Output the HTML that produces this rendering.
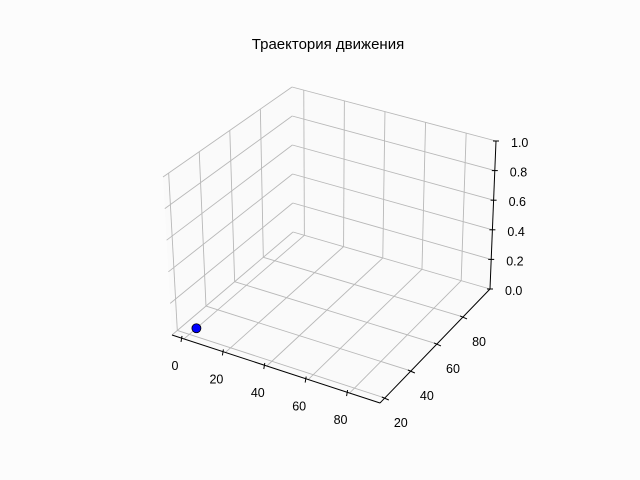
<!DOCTYPE html>
<html><head><meta charset="utf-8"><style>
body{margin:0;background:#fff;}
svg{display:block;font-family:"Liberation Sans","DejaVu Sans",sans-serif;}
</style></head><body>
<svg id="chart" width="640" height="480" viewBox="0 0 640 480">
<rect width="640" height="480" fill="#fcfcfc"/>
<text x="328" y="49" text-anchor="middle" font-size="15" fill="#000">Траектория движения</text>
<g id="panes"></g>
<g id="grid"></g>
<g id="axes"></g>
<g id="marks"></g>
</svg>
<script>
const xTicks = [0, 20, 40, 60, 80];
const yTicks = [20, 40, 60, 80];
const zTicks = [0.0, 0.2, 0.4, 0.6, 0.8, 1.0];
const xLim = [-5.8, 94.7];
const yLim = [16.3, 100.7];
const zLim = [0, 1];
const pointsX = [0];
const pointsY = [25];
const pointsZ = [0];

const C = {
  '000':[172,335],'100':[380,403],'110':[490,289],'010':[293,232],
  '001':[163,177],'101':[385,238],'111':[496,141],'011':[292,87]
};
function proj(x,y,z){
  const u=(x-xLim[0])/(xLim[1]-xLim[0]), v=(y-yLim[0])/(yLim[1]-yLim[0]), w=(z-zLim[0])/(zLim[1]-zLim[0]);
  let px=0,py=0;
  for(const a of [0,1])for(const b of [0,1])for(const c of [0,1]){
    const k=(a?u:1-u)*(b?v:1-v)*(c?w:1-w);
    const p=C[''+a+b+c]; px+=k*p[0]; py+=k*p[1];
  }
  return [px,py];
}
const NS='http://www.w3.org/2000/svg';
function line(g,p,q,col,wd){
  const l=document.createElementNS(NS,'line');
  l.setAttribute('x1',p[0]);l.setAttribute('y1',p[1]);l.setAttribute('x2',q[0]);l.setAttribute('y2',q[1]);
  l.setAttribute('stroke',col);l.setAttribute('stroke-width',wd);
  g.appendChild(l);return l;
}
function poly(g,pts){
  const p=document.createElementNS(NS,'polygon');
  p.setAttribute('points',pts.map(a=>a.join(',')).join(' '));
  p.setAttribute('fill','rgba(240,240,240,0.12)');
  g.appendChild(p);return p;
}
const panes=document.getElementById('panes');
const [x0,x1]=xLim,[y0,y1]=yLim,[z0,z1]=zLim;
let pp=poly(panes,[proj(x0,y0,z0),proj(x0,y1,z0),proj(x0,y1,z1),proj(x0,y0,z1)]);


pp=poly(panes,[proj(x0,y1,z0),proj(x1,y1,z0),proj(x1,y1,z1),proj(x0,y1,z1)]);


pp=poly(panes,[proj(x0,y0,z0),proj(x1,y0,z0),proj(x1,y1,z0),proj(x0,y1,z0)]);



const grid=document.getElementById('grid');
const gc='#b8b8b8', gw=0.9;
xTicks.forEach(x=>{
  let l=line(grid,proj(x,y0,z0),proj(x,y1,z0),gc,gw);
  
  
  l=line(grid,proj(x,y1,z0),proj(x,y1,z1),gc,gw);
  
  
});
yTicks.forEach(y=>{
  let l=line(grid,proj(x0,y,z0),proj(x1,y,z0),gc,gw);
  
  
  l=line(grid,proj(x0,y,z0),proj(x0,y,z1),gc,gw);
  
  
});
zTicks.forEach(z=>{
  let l=line(grid,proj(x0,y0,z),proj(x0,y1,z),gc,gw);
  
  
  l=line(grid,proj(x0,y1,z),proj(x1,y1,z),gc,gw);
  
  
});

const axes=document.getElementById('axes');
function txt(x,y,s,anchor){
  const t=document.createElementNS(NS,'text');
  t.setAttribute('x',x);t.setAttribute('y',y);t.setAttribute('font-size','12.5');
  t.setAttribute('text-anchor',anchor);t.setAttribute('dominant-baseline','central');
  t.textContent=s;axes.appendChild(t);return t;
}
let a=line(axes,proj(x0,y0,z0),proj(x1,y0,z0),'#000',1);


a=line(axes,proj(x1,y0,z0),proj(x1,y1,z0),'#000',1);


a=line(axes,proj(x1,y1,z0),proj(x1,y1,z1),'#000',1);



xTicks.forEach(x=>{
  const p=proj(x,y0,z0);
  let l=line(axes,[p[0]-2,p[1]-3],[p[0]-3,p[1]+3],'#000',1);
  
  
  const t=txt(p[0]-9,p[1]+27,String(x),'middle');
  
  
});
yTicks.forEach(y=>{
  const p=proj(x1,y,z0);
  let l=line(axes,[p[0]-3,p[1]-1],[p[0]+4,p[1]+2],'#000',1);
  
  
  const t=txt(p[0]+16,p[1]+25,String(y),'middle');
  
  
});
zTicks.forEach(z=>{
  const p=proj(x1,y1,z);
  let l=line(axes,[p[0]-3,p[1]],[p[0]+3,p[1]],'#000',1);
  
  
  const t=txt(p[0]+15,p[1]+2,z.toFixed(1),'start');
  
  
});

const marks=document.getElementById('marks');
pointsX.forEach((x,i)=>{
  const p=proj(x,pointsY[i],pointsZ[i]);
  const c=document.createElementNS(NS,'circle');
  c.setAttribute('cx',p[0]);c.setAttribute('cy',p[1]);c.setAttribute('r',4.5);
  c.setAttribute('fill','#0000ff');c.setAttribute('stroke','#000');c.setAttribute('stroke-width',0.8);
  
  
  marks.appendChild(c);
});
</script>
</body></html>
